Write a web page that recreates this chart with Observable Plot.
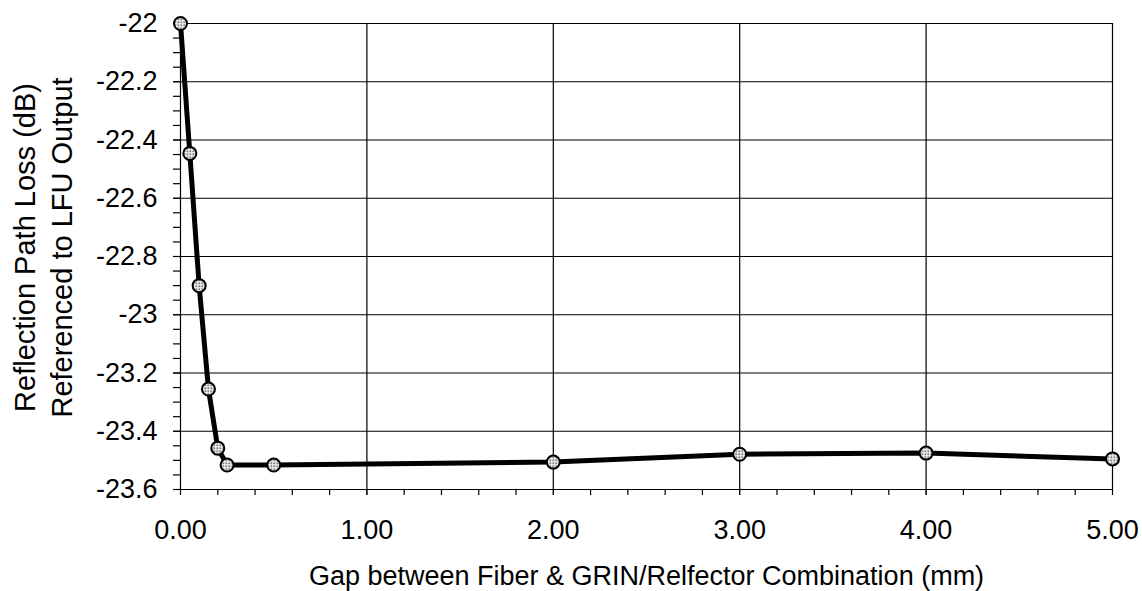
<!DOCTYPE html>
<html>
<head>
<meta charset="utf-8">
<script src="https://cdn.jsdelivr.net/npm/d3@7"></script>
<script src="https://cdn.jsdelivr.net/npm/@observablehq/plot@0.6"></script>
<style>
  html, body { margin: 0; padding: 0; background: #fff; }
</style>
</head>
<body>
<div id="chart"></div>
<script>
// Data
const gapMm = [0, 0.05, 0.1, 0.15, 0.2, 0.25, 0.5, 2, 3, 4, 5];
const lossDb = [-22.0, -22.446, -22.90, -23.255, -23.458, -23.516, -23.516, -23.506, -23.479, -23.475, -23.495];
const xMajorTicks = [0, 1, 2, 3, 4, 5];
const xMinorTicks = d3.range(0, 26).map(i => i / 5);
const yMajorTicks = [-22, -22.2, -22.4, -22.6, -22.8, -23, -23.2, -23.4, -23.6];
const yMinorTicks = d3.range(0, 33).map(i => -22 - i * 0.05);
const xTitle = "Gap between Fiber & GRIN/Relfector Combination (mm)";
const yTitle = "Reflection Path Loss (dB)\nReferenced to LFU Output";

const data = gapMm.map((g, i) => ({gap: g, loss: lossDb[i]}));

const defs = () => {
  const d = d3.create("svg:defs");
  const p = d.append("pattern").attr("id", "dotpat").attr("patternUnits", "userSpaceOnUse")
    .attr("width", 3).attr("height", 3);
  p.append("rect").attr("width", 3).attr("height", 3).attr("fill", "#fff");
  p.append("rect").attr("x", 0).attr("y", 0).attr("width", 1.5).attr("height", 1.5).attr("fill", "#222");
  return d.node();
};

const chart = Plot.plot({
  width: 1142,
  height: 591,
  marginLeft: 180,
  marginRight: 30,
  marginTop: 23,
  marginBottom: 102,
  style: {fontFamily: "'Liberation Sans', Arial, sans-serif", fontSize: "27px", color: "#000", background: "#fff"},
  x: {domain: [0, 5]},
  y: {domain: [-23.6, -22]},
  marks: [
    defs,
    Plot.ruleY(yMajorTicks, {stroke: "#000", strokeWidth: 1.2}),
    Plot.ruleX(xMajorTicks, {stroke: "#000", strokeWidth: 1.2}),
    Plot.axisY({ticks: yMinorTicks, tickSize: 7, tickFormat: () => "", label: null, strokeWidth: 1.2}),
    Plot.axisY({ticks: yMajorTicks, tickSize: 7, tickPadding: 16, tickFormat: d => String(Math.round(d * 10) / 10), label: null, fontSize: 27}),
    Plot.axisX({ticks: xMinorTicks, tickSize: 6, tickFormat: () => "", label: null, strokeWidth: 1.2}),
    Plot.axisX({ticks: xMajorTicks, tickSize: 6, tickPadding: 24, tickFormat: d => d.toFixed(2), label: null, fontSize: 27}),
    Plot.line(data, {x: "gap", y: "loss", stroke: "#000", strokeWidth: 5}),
    Plot.dot(data, {x: "gap", y: "loss", r: 6.5, fill: "url(#dotpat)", stroke: "#000", strokeWidth: 2}),
    Plot.text([xTitle], {frameAnchor: "bottom", text: d => d, dy: 95, fontSize: 27, fill: "#000"}),
    Plot.text([yTitle], {frameAnchor: "left", text: d => d, rotate: -90, textAnchor: "middle", lineAnchor: "middle", dx: -139, dy: -9, fontSize: 29, lineHeight: 1.3, fill: "#000"})
  ]
});
document.getElementById("chart").appendChild(chart);
</script>
</body>
</html>
